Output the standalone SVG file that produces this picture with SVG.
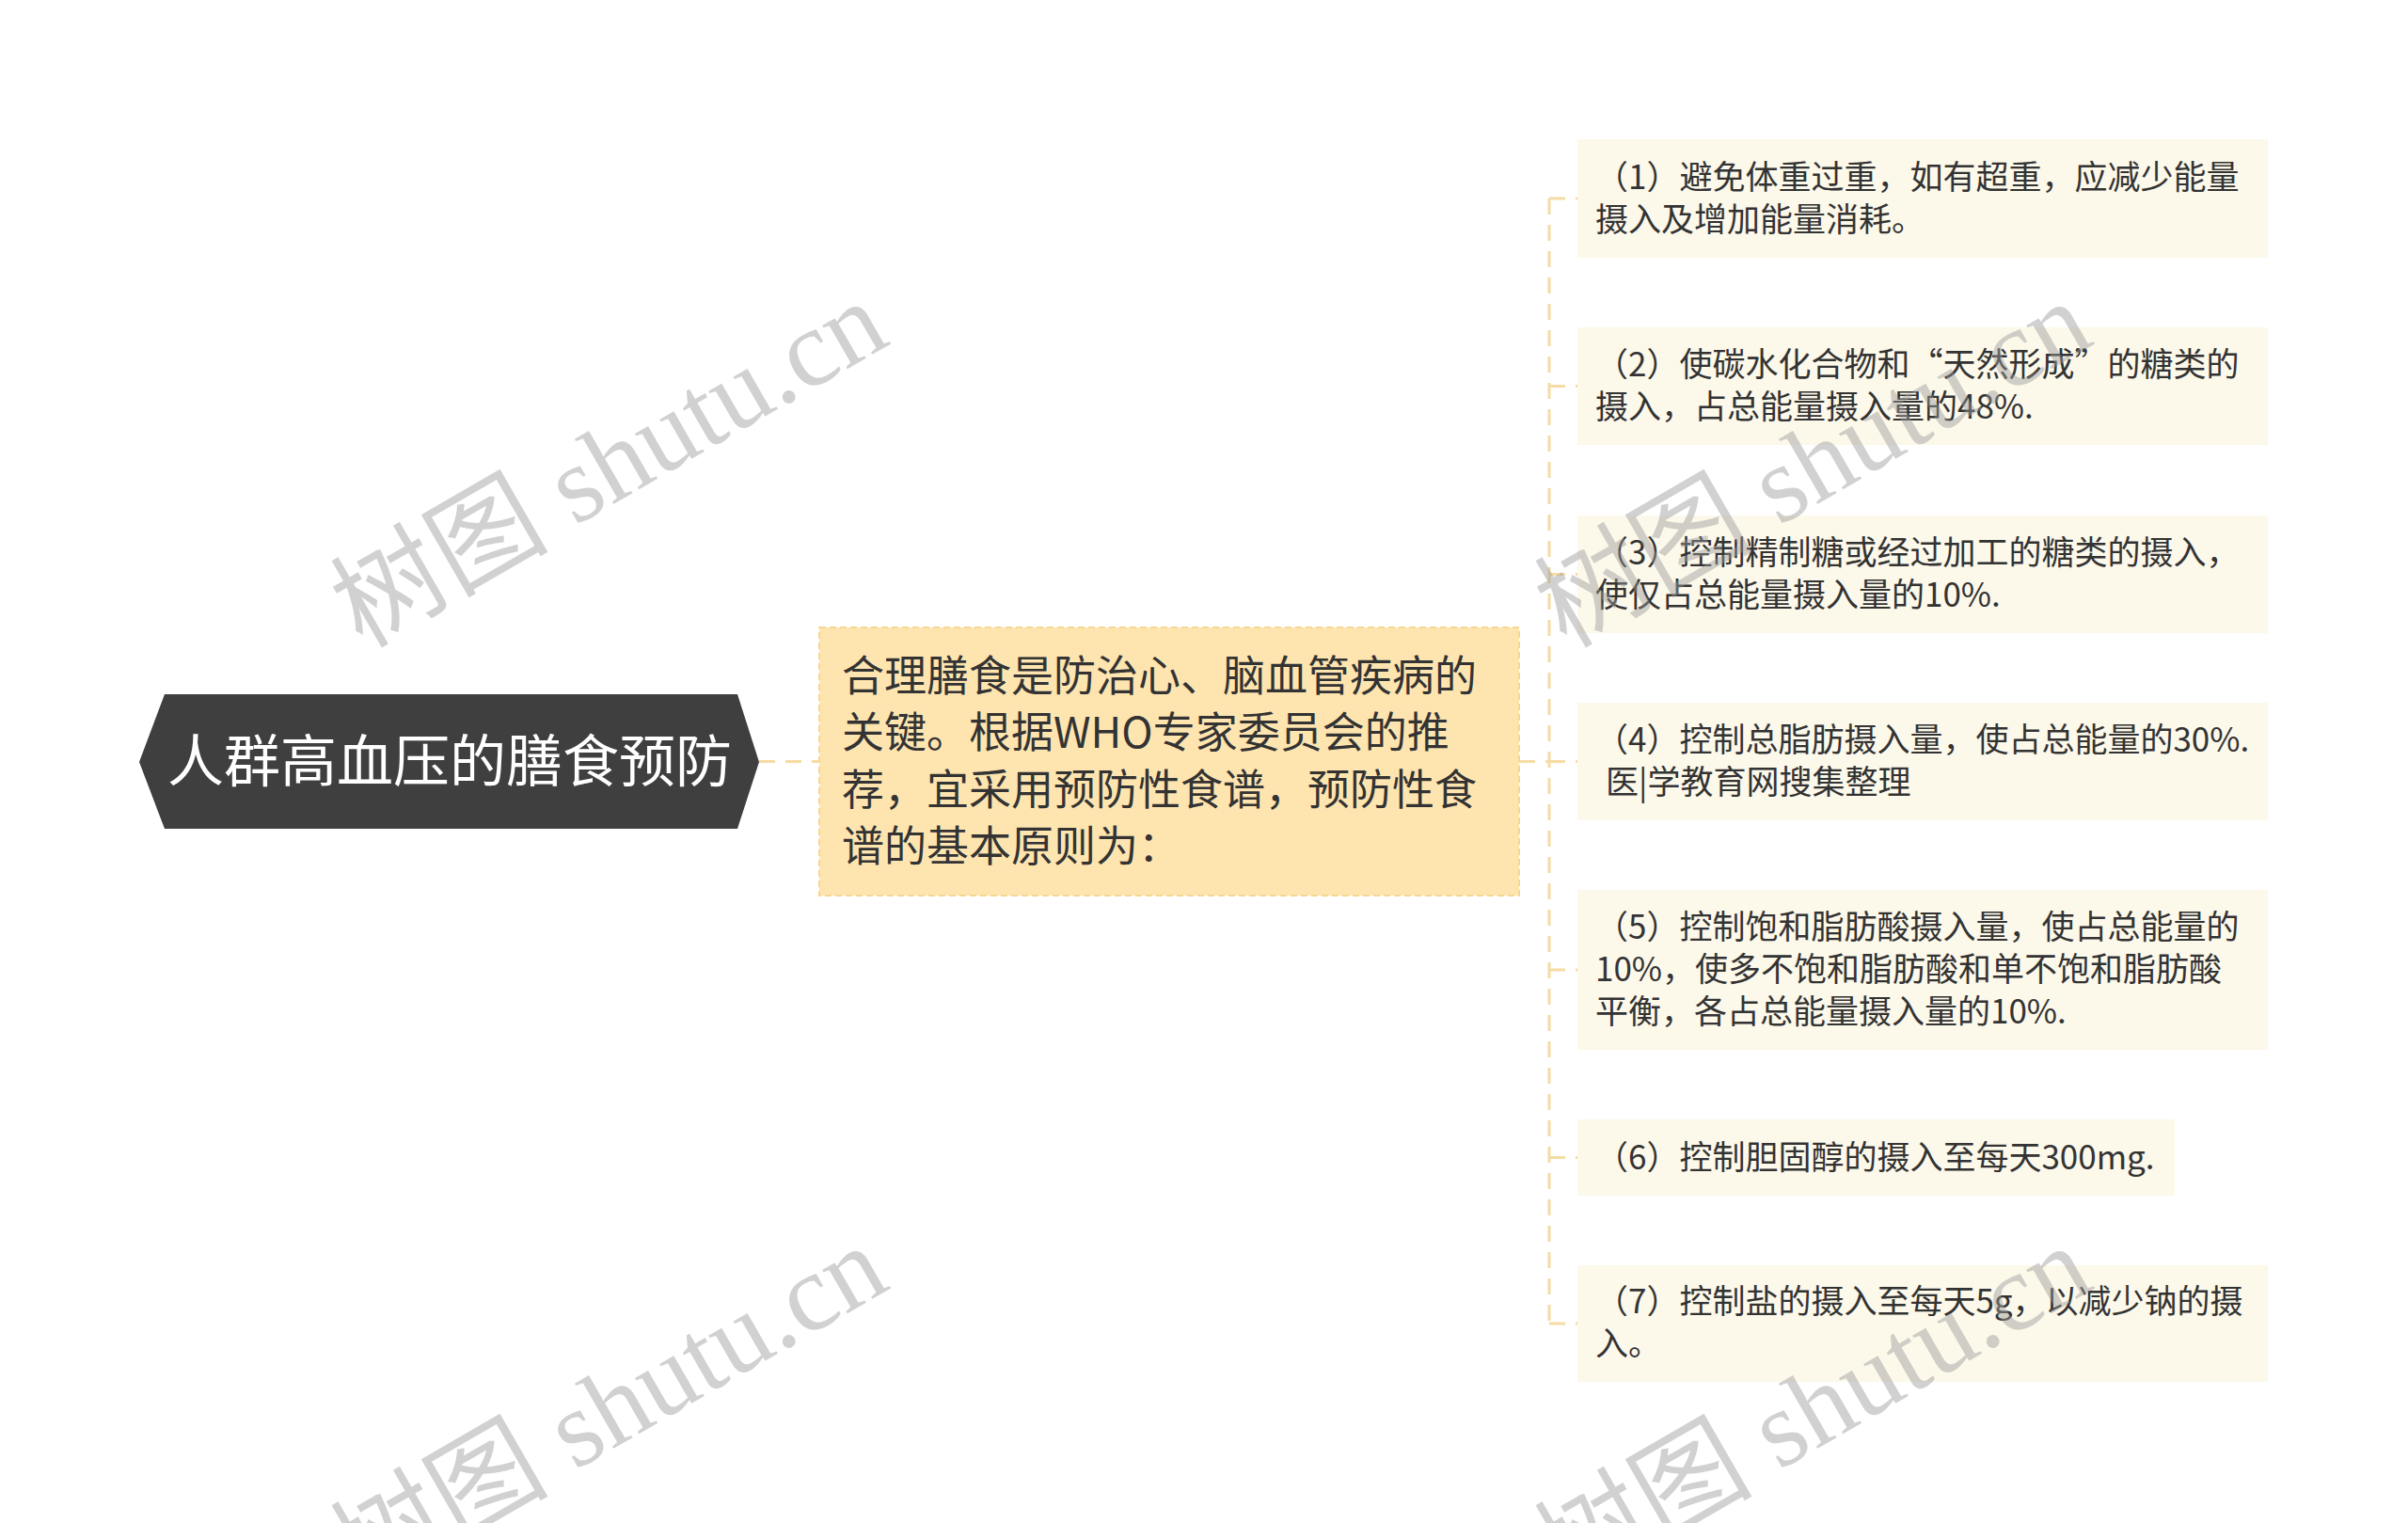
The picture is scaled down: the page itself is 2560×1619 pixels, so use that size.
<svg xmlns="http://www.w3.org/2000/svg" width="2560" height="1619" viewBox="0 0 2560 1619">
<style>
.conn{fill:none;stroke:#f4dca4;stroke-width:3;stroke-dasharray:17 11}
.root{fill:#3f3f3f}
.rootT{fill:#ffffff;font-family:"Noto Sans CJK SC","Noto Sans",sans-serif;font-size:60px}
.mid{fill:#fee5b0;stroke:#f6d792;stroke-width:2;stroke-dasharray:7 4}
.midT{fill:#333333;font-family:"Noto Sans CJK SC","Noto Sans",sans-serif;font-size:45px}
.leaf{fill:#fcf8ea}
.leafT{fill:#333333;font-family:"Noto Sans CJK SC","Noto Sans",sans-serif;font-size:35px}
.wm{fill:#9a9a9a;opacity:0.45;font-family:"Liberation Serif","Noto Sans CJK SC",serif;font-size:116px}
</style>
<rect width="2560" height="1619" fill="#ffffff"/>
<g id="connectors">
<path class="conn" d="M807 809.5 H871"/>
<path class="conn" d="M1615 809.5 H1647"/>
<path class="conn" d="M1647 211 V1407"/>
<path class="conn" d="M1647 211 H1677"/>
<path class="conn" d="M1647 410.5 H1677"/>
<path class="conn" d="M1647 610.5 H1677"/>
<path class="conn" d="M1647 809.5 H1677"/>
<path class="conn" d="M1647 1031 H1677"/>
<path class="conn" d="M1647 1230.5 H1677"/>
<path class="conn" d="M1647 1407 H1677"/>
</g>
<g id="root">
<polygon class="root" points="148,810 175,738 784,738 807,810 784,881 175,881"/>
<text class="rootT" x="478" y="831" text-anchor="middle">人群高血压的膳食预防</text>
</g>
<g id="middle">
<rect class="mid" x="871" y="667" width="744" height="285"/>
<text class="midT" x="895" y="735">合理膳食是防治心、脑血管疾病的</text>
<text class="midT" x="895" y="795">关键。根据WHO专家委员会的推</text>
<text class="midT" x="895" y="856">荐，宜采用预防性食谱，预防性食</text>
<text class="midT" x="895" y="916">谱的基本原则为：</text>
</g>
<g id="leaf1">
<rect class="leaf" x="1677" y="148" width="734" height="126"/>
<text class="leafT" x="1696" y="201">（1）避免体重过重，如有超重，应减少能量</text>
<text class="leafT" x="1696" y="246">摄入及增加能量消耗。</text>
</g>
<g id="leaf2">
<rect class="leaf" x="1677" y="348" width="734" height="125"/>
<text class="leafT" x="1696" y="400">（2）使碳水化合物和“天然形成”的糖类的</text>
<text class="leafT" x="1696" y="445">摄入，占总能量摄入量的48%.</text>
</g>
<g id="leaf3">
<rect class="leaf" x="1677" y="548" width="734" height="125"/>
<text class="leafT" x="1696" y="600">（3）控制精制糖或经过加工的糖类的摄入，</text>
<text class="leafT" x="1696" y="645">使仅占总能量摄入量的10%.</text>
</g>
<g id="leaf4">
<rect class="leaf" x="1677" y="747" width="734" height="125"/>
<text class="leafT" x="1696" y="799">（4）控制总脂肪摄入量，使占总能量的30%.</text>
<text class="leafT" x="1707" y="844">医|学教育网搜集整理</text>
</g>
<g id="leaf5">
<rect class="leaf" x="1677" y="946" width="734" height="170"/>
<text class="leafT" x="1696" y="998">（5）控制饱和脂肪酸摄入量，使占总能量的</text>
<text class="leafT" x="1696" y="1043">10%，使多不饱和脂肪酸和单不饱和脂肪酸</text>
<text class="leafT" x="1696" y="1088">平衡，各占总能量摄入量的10%.</text>
</g>
<g id="leaf6">
<rect class="leaf" x="1677" y="1190" width="635" height="81"/>
<text class="leafT" x="1696" y="1243">（6）控制胆固醇的摄入至每天300mg.</text>
</g>
<g id="leaf7">
<rect class="leaf" x="1677" y="1345" width="734" height="124"/>
<text class="leafT" x="1696" y="1396">（7）控制盐的摄入至每天5g，以减少钠的摄</text>
<text class="leafT" x="1696" y="1441">入。</text>
</g>
<g id="watermarks">
<text class="wm" transform="translate(385,690) rotate(-30)">树图 shutu.cn</text>
<text class="wm" transform="translate(1665,690) rotate(-30)">树图 shutu.cn</text>
<text class="wm" transform="translate(385,1694) rotate(-30)">树图 shutu.cn</text>
<text class="wm" transform="translate(1665,1694) rotate(-30)">树图 shutu.cn</text>
</g>
</svg>
